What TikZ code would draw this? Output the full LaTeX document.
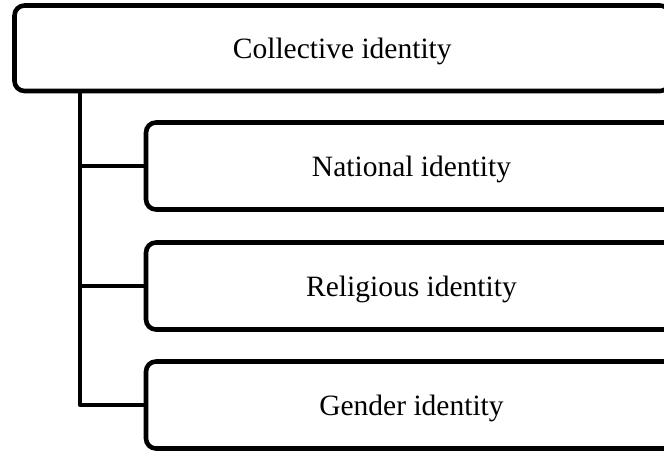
\documentclass[tikz,border=0pt]{standalone}
\usepackage{fontspec}
\setmainfont{Liberation Serif}
\begin{document}
\begin{tikzpicture}[x=1pt,y=-1pt,
  box/.style={draw=black, line width=4.6pt, rounded corners=10pt, fill=white,
    inner sep=0pt, outer sep=0pt, text depth=0pt,
    font=\fontsize{29.5}{34}\selectfont},
  link/.style={draw=black, line width=4.6pt, line join=round, line cap=butt}]
  \useasboundingbox (0,0) rectangle (664,450);
  % parent box, its right side runs past the page edge
  \node[box, minimum width=655.5pt, minimum height=85.5pt] (top) at (342.25,48.25) {Collective identity};
  % child boxes
  \node[box, minimum width=531pt, minimum height=87pt] (c1) at (411.5,166) {National identity};
  \node[box, minimum width=531pt, minimum height=87pt] (c2) at (411.5,286) {Religious identity};
  \node[box, minimum width=531pt, minimum height=87pt] (c3) at (411.5,405) {Gender identity};
  % spine and branches
  \coordinate (spine) at (80,0);
  \draw[link] (top.south -| spine) -- (c3.west -| spine) -- (c3.west);
  \draw[link] (c1.west -| spine) -- (c1.west);
  \draw[link] (c2.west -| spine) -- (c2.west);
\end{tikzpicture}
\end{document}
